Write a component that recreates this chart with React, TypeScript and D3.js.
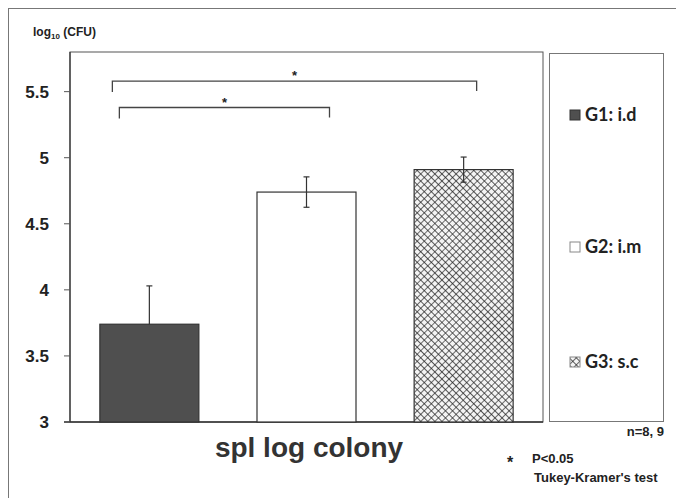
import React from 'react'
import { scaleBand, scaleLinear } from 'd3'

// data
const groups = ['G1: i.d', 'G2: i.m', 'G3: s.c']
const means = [3.74, 4.74, 4.91]
const sds = [0.29, 0.115, 0.095]
const yTicks = [3, 3.5, 4, 4.5, 5, 5.5]
const comparisons: [number, number][] = [[0, 1], [0, 2]]
const bracketLevels = [5.38, 5.58]

const width = 676
const height = 498
const plot = { left: 70, right: 543, top: 52, bottom: 422 }

const x = scaleBand<number>()
  .domain(groups.map((_, i) => i))
  .range([plot.left, plot.right])
  .paddingInner(0.37)
  .paddingOuter(0.19)

const y = scaleLinear().domain([3, 5.8]).range([plot.bottom, plot.top])

const darkFill = '#4f4f4f'
const fills = [darkFill, '#ffffff', 'url(#hatch)']
// bracket end offsets from bar centres (px)
const bracketEnds = [[-30, 23], [-37, 13]]
const legendY = [115, 247, 362]

const bold = { fontFamily: 'Arial, "Liberation Sans", sans-serif', fontWeight: 700 }

export default function App() {
  const bw = x.bandwidth()
  const cx = (i: number) => (x(i) as number) + bw / 2
  return (
    <svg width={width} height={height} style={{ position: 'absolute', left: 0, top: 0, background: '#fff' }}>
      <defs>
        <pattern id="hatch" width={5} height={5} patternUnits="userSpaceOnUse" patternTransform="rotate(45)">
          <rect width={5} height={5} fill="#f4f4f4" />
          <path d="M0,0 H5 M0,0 V5" stroke="#222" strokeWidth={1.3} />
        </pattern>
      </defs>
      {/* outer frame */}
      <rect x={8.5} y={8.5} width={700} height={520} fill="none" stroke="#777" />
      <text x={33} y={36} style={{ ...bold, fontSize: 12 }} fill="#222">
        log<tspan fontSize={8} dy={3}>10</tspan><tspan dy={-3}> (CFU)</tspan>
      </text>

      {/* plot area frame */}
      <rect x={plot.left} y={plot.top} width={plot.right - plot.left} height={plot.bottom - plot.top}
        fill="none" stroke="#555" />
      <line x1={64} x2={plot.right} y1={plot.bottom} y2={plot.bottom} stroke="#333" strokeWidth={1.5} />
      <line x1={plot.left} x2={plot.left} y1={plot.top} y2={plot.bottom} stroke="#333" strokeWidth={1.2} />

      {yTicks.map(t => (
        <g key={t}>
          <line x1={64} x2={plot.left} y1={y(t)} y2={y(t)} stroke="#555" />
          <text x={49} y={y(t)} dy="0.35em" textAnchor="end" style={{ ...bold, fontSize: 17 }} fill="#222">{t}</text>
        </g>
      ))}

      {means.map((m, i) => (
        <rect key={i} x={x(i)} y={y(m)} width={bw} height={plot.bottom - y(m)}
          fill={fills[i]} stroke="#333" strokeWidth={1.2} />
      ))}

      {means.map((m, i) => {
        // the lower half is hidden inside the dark bar
        const lo = fills[i] === darkFill ? m : m - sds[i]
        return (
          <g key={i} stroke="#333" strokeWidth={1.2}>
            <line x1={cx(i)} x2={cx(i)} y1={y(lo)} y2={y(m + sds[i])} />
            <line x1={cx(i) - 3} x2={cx(i) + 3} y1={y(m + sds[i])} y2={y(m + sds[i])} />
            {lo !== m && <line x1={cx(i) - 3} x2={cx(i) + 3} y1={y(lo)} y2={y(lo)} />}
          </g>
        )
      })}

      {comparisons.map(([a, b], k) => {
        const x1 = cx(a) + bracketEnds[k][0]
        const x2 = cx(b) + bracketEnds[k][1]
        const yy = y(bracketLevels[k])
        return (
          <g key={k}>
            <path d={`M${x1},${yy + 11} V${yy} H${x2} V${yy + 10}`} fill="none" stroke="#444" strokeWidth={1.3} />
            <text x={(x1 + x2) / 2} y={yy - 1} textAnchor="middle" style={{ ...bold, fontSize: 13 }} fill="#222">*</text>
          </g>
        )
      })}

      <text x={309} y={457} textAnchor="middle" style={{ ...bold, fontSize: 28 }} fill="#333">spl log colony</text>

      {/* legend */}
      <rect x={549.5} y={53.5} width={114} height={368} fill="none" stroke="#777" />
      {groups.map((g, i) => (
        <g key={g}>
          <rect x={570} y={legendY[i] - 5} width={10} height={10} fill={fills[i]}
            stroke={i === 0 ? '#333' : '#888'} />
          <text x={585} y={legendY[i]} dy="0.36em" fill="#222"
            style={{ fontFamily: 'Lato, "Open Sans", sans-serif', fontWeight: 700, fontSize: 18 }}>{g}</text>
        </g>
      ))}

      <text x={664} y={436} textAnchor="end" style={{ ...bold, fontSize: 13 }} fill="#222">n=8, 9</text>
      <text x={507} y={468} style={{ ...bold, fontSize: 16 }} fill="#222">*</text>
      <text x={532} y={463} style={{ ...bold, fontSize: 13 }} fill="#222">P&lt;0.05</text>
      <text x={534} y={482} style={{ ...bold, fontSize: 13 }} fill="#222">Tukey-Kramer's test</text>
    </svg>
  )
}
